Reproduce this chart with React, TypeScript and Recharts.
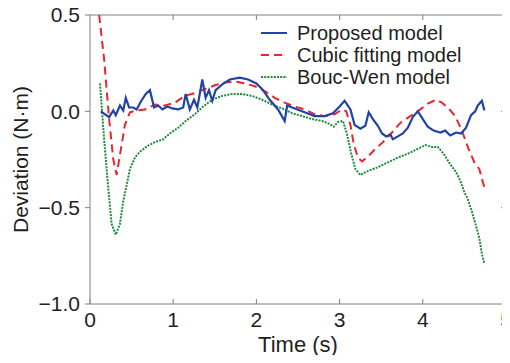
import { LineChart, Line, XAxis, YAxis, Legend, CartesianGrid } from 'recharts'

// time (s) and deviation (N·m), one pair of arrays per model
const propT = [0.13, 0.23, 0.28, 0.31, 0.36, 0.4, 0.43, 0.47, 0.52, 0.56, 0.61, 0.67, 0.72, 0.77, 0.82, 0.87, 0.93, 0.99, 1.06, 1.12, 1.15, 1.2, 1.25, 1.29, 1.35, 1.39, 1.43, 1.47, 1.51, 1.59, 1.68, 1.8, 1.9, 2.0, 2.07, 2.16, 2.26, 2.34, 2.37, 2.46, 2.58, 2.7, 2.82, 2.92, 3.0, 3.06, 3.13, 3.18, 3.25, 3.31, 3.35, 3.4, 3.46, 3.51, 3.56, 3.61, 3.64, 3.7, 3.76, 3.82, 3.88, 3.94, 4.0, 4.06, 4.13, 4.21, 4.27, 4.33, 4.4, 4.46, 4.52, 4.58, 4.63, 4.66, 4.71, 4.74]
const propV = [0.0, -0.03, 0.005, -0.02, 0.03, 0.005, 0.07, 0.02, 0.02, 0.01, 0.05, 0.09, 0.11, 0.02, 0.03, 0.01, 0.025, 0.015, 0.01, 0.02, 0.09, 0.01, 0.06, 0.02, 0.165, 0.07, 0.11, 0.055, 0.11, 0.14, 0.165, 0.175, 0.165, 0.145, 0.115, 0.06, 0.01, -0.05, 0.03, 0.015, -0.005, -0.025, -0.025, -0.01, 0.025, 0.055, 0.01, -0.07, -0.09, -0.075, -0.005, -0.04, -0.075, -0.115, -0.13, -0.12, -0.145, -0.13, -0.115, -0.085, -0.03, 0.0, -0.04, -0.08, -0.1, -0.11, -0.1, -0.125, -0.11, -0.115, -0.085, -0.02, 0.0, 0.03, 0.055, 0.005]

const cubicT = [0.11, 0.17, 0.23, 0.28, 0.32, 0.37, 0.42, 0.48, 0.56, 0.66, 0.78, 0.9, 1.02, 1.14, 1.26, 1.38, 1.5, 1.62, 1.74, 1.86, 1.98, 2.1, 2.22, 2.34, 2.46, 2.58, 2.7, 2.82, 2.94, 3.03, 3.08, 3.13, 3.17, 3.22, 3.27, 3.34, 3.43, 3.52, 3.63, 3.73, 3.85, 3.97, 4.06, 4.16, 4.23, 4.3, 4.39, 4.47, 4.54, 4.62, 4.68, 4.71, 4.75]
const cubicV = [0.5, 0.27, -0.04, -0.25, -0.33, -0.2, -0.07, -0.005, 0.005, 0.01, 0.035, 0.03, 0.045, 0.08, 0.095, 0.115, 0.135, 0.15, 0.155, 0.145, 0.13, 0.105, 0.07, 0.045, 0.025, 0.01, -0.015, -0.025, -0.015, 0.01, 0.0, -0.07, -0.17, -0.24, -0.26, -0.235, -0.195, -0.16, -0.11, -0.06, -0.025, 0.01, 0.04, 0.06, 0.045, 0.02, -0.025, -0.1, -0.185, -0.265, -0.3, -0.35, -0.41]

const boucT = [0.12, 0.17, 0.22, 0.26, 0.31, 0.36, 0.4, 0.43, 0.48, 0.54, 0.6, 0.69, 0.78, 0.88, 0.96, 1.06, 1.15, 1.26, 1.36, 1.47, 1.59, 1.71, 1.83, 1.95, 2.07, 2.19, 2.31, 2.43, 2.55, 2.67, 2.79, 2.88, 2.93, 2.98, 3.04, 3.09, 3.14, 3.19, 3.25, 3.34, 3.46, 3.58, 3.7, 3.82, 3.94, 4.03, 4.11, 4.18, 4.25, 4.33, 4.4, 4.45, 4.5, 4.54, 4.59, 4.64, 4.68, 4.71, 4.74]
const boucV = [0.145, -0.145, -0.4, -0.585, -0.64, -0.585, -0.465, -0.405, -0.3, -0.24, -0.21, -0.18, -0.16, -0.145, -0.115, -0.085, -0.05, -0.015, 0.025, 0.06, 0.08, 0.09, 0.09, 0.08, 0.06, 0.035, 0.015, -0.01, -0.025, -0.04, -0.05, -0.065, -0.08, -0.055, -0.05, -0.12, -0.22, -0.3, -0.33, -0.31, -0.29, -0.265, -0.24, -0.22, -0.195, -0.175, -0.185, -0.185, -0.22, -0.275, -0.315, -0.36, -0.42, -0.455, -0.52, -0.595, -0.66, -0.74, -0.79]

const xTicks = [0, 1, 2, 3, 4, 5]
const yTicks = [-1, -0.5, 0, 0.5]
const X_DOMAIN = [0, 5]
const Y_DOMAIN = [-1, 0.5]

const seriesNames = ['Proposed model', 'Cubic fitting model', 'Bouc-Wen model']

const toRows = (ts: number[], vs: number[]) => ts.map((t, i) => ({ t, v: vs[i] }))
const propData = toRows(propT, propV)
const cubicData = toRows(cubicT, cubicV)
const boucData = toRows(boucT, boucV)

const W = 510
const H = 363
const M = { top: 15, right: 4, left: 0, bottom: 0 }
const Y_AXIS_W = 90
const X_AXIS_H = 59
const PLOT = {
  left: M.left + Y_AXIS_W,
  top: M.top,
  width: W - M.left - M.right - Y_AXIS_W,
  height: H - M.top - M.bottom - X_AXIS_H,
}

const FONT = '"Liberation Sans", Arial, sans-serif'
const INK = '#231f20'
const AXIS = '#808080'
const BLUE = '#1f44a6'
const RED = '#e8262b'
const GREEN = '#1e8c3a'

const fmtY = (v: number) => (v < 0 ? `\u2212${Math.abs(v).toFixed(1)}` : v.toFixed(1))

// bottom ticks point into the plot, label below
// eslint-disable-next-line @typescript-eslint/no-explicit-any
const BottomTick = ({ x, y, payload }: any) => (
  <g>
    <line x1={x} x2={x} y1={y - 8} y2={y - 13} stroke={AXIS} />
    <text x={x} y={y} dy="0.71em" textAnchor="middle" fontSize={21} fontFamily={FONT} fill={INK}>
      {payload.value}
    </text>
  </g>
)

// eslint-disable-next-line @typescript-eslint/no-explicit-any
const YTitle = ({ viewBox }: any) => {
  const cx = 20
  const cy = viewBox.y + viewBox.height / 2
  return (
    <text
      x={cx}
      y={cy}
      transform={`rotate(-90 ${cx} ${cy})`}
      textAnchor="middle"
      dominantBaseline="central"
      fontSize={21}
      fontFamily={FONT}
      fill={INK}
    >
      Deviation (N·m)
    </text>
  )
}

const LegendBox = () => {
  const styles = [
    { color: BLUE, dash: undefined },
    { color: RED, dash: '8 5' },
    { color: GREEN, dash: '2 1.2' },
  ]
  return (
    <div style={{ fontFamily: FONT, fontSize: 20, color: INK, lineHeight: '22px' }}>
      {seriesNames.map((name, i) => (
        <div key={name} style={{ display: 'flex', alignItems: 'center', height: 22 }}>
          <svg width={28} height={10} style={{ marginRight: 9 }}>
            <line x1={1} x2={27} y1={5} y2={5} stroke={styles[i].color} strokeWidth={2} strokeDasharray={styles[i].dash} />
          </svg>
          <span>{name}</span>
        </div>
      ))}
    </div>
  )
}

// inward ticks on the top and right borders of the box
const BoxTicks = () => {
  const sx = (t: number) => PLOT.left + (PLOT.width * (t - X_DOMAIN[0])) / (X_DOMAIN[1] - X_DOMAIN[0])
  const sy = (v: number) => PLOT.top + (PLOT.height * (Y_DOMAIN[1] - v)) / (Y_DOMAIN[1] - Y_DOMAIN[0])
  const right = PLOT.left + PLOT.width
  return (
    <svg width={W} height={H} style={{ position: 'absolute', left: 0, top: 0, pointerEvents: 'none' }}>
      {xTicks.slice(1, -1).map((t) => (
        <line key={`x${t}`} x1={sx(t)} x2={sx(t)} y1={PLOT.top} y2={PLOT.top + 5} stroke={AXIS} />
      ))}
      {yTicks.slice(1, -1).map((v) => (
        <line key={`y${v}`} x1={right} x2={right - 5} y1={sy(v)} y2={sy(v)} stroke={AXIS} />
      ))}
    </svg>
  )
}

export default function App() {
  return (
    <div style={{ position: 'relative', margin: -8, width: W, height: H, background: '#fff' }}>
      <LineChart width={W} height={H} margin={M}>
        {/* the grid is used only for the top and right edges of the box */}
        <CartesianGrid
          horizontalPoints={[PLOT.top]}
          verticalPoints={[PLOT.left + PLOT.width]}
          stroke={AXIS}
          strokeDasharray=""
          strokeOpacity={1}
        />
        <XAxis
          dataKey="t"
          type="number"
          domain={X_DOMAIN}
          ticks={xTicks}
          height={X_AXIS_H}
          stroke={AXIS}
          tickLine={false}
          tickSize={0}
          tickMargin={8}
          tick={BottomTick}
          allowDataOverflow
          label={{ value: 'Time (s)', position: 'insideBottom', offset: 11, fontSize: 22, fontFamily: FONT, fill: INK }}
        />
        <YAxis
          type="number"
          domain={Y_DOMAIN}
          ticks={yTicks}
          width={Y_AXIS_W}
          stroke={AXIS}
          tickSize={5}
          tickMargin={5}
          tickFormatter={fmtY}
          tick={{ fontSize: 21, fontFamily: FONT, fill: INK }}
          allowDataOverflow
          label={<YTitle />}
        />
        <Legend
          layout="vertical"
          align="center"
          verticalAlign="middle"
          content={<LegendBox />}
          wrapperStyle={{ top: 22, left: 260, width: 250, height: 66 }}
        />
        <Line data={boucData} dataKey="v" name={seriesNames[2]} type="linear" stroke={GREEN} strokeWidth={2} strokeDasharray="2 1.2" dot={false} isAnimationActive={false} />
        <Line data={cubicData} dataKey="v" name={seriesNames[1]} type="linear" stroke={RED} strokeWidth={2} strokeDasharray="8 5" dot={false} isAnimationActive={false} />
        <Line data={propData} dataKey="v" name={seriesNames[0]} type="linear" stroke={BLUE} strokeWidth={2.2} dot={false} isAnimationActive={false} />
      </LineChart>
      <BoxTicks />
    </div>
  )
}
